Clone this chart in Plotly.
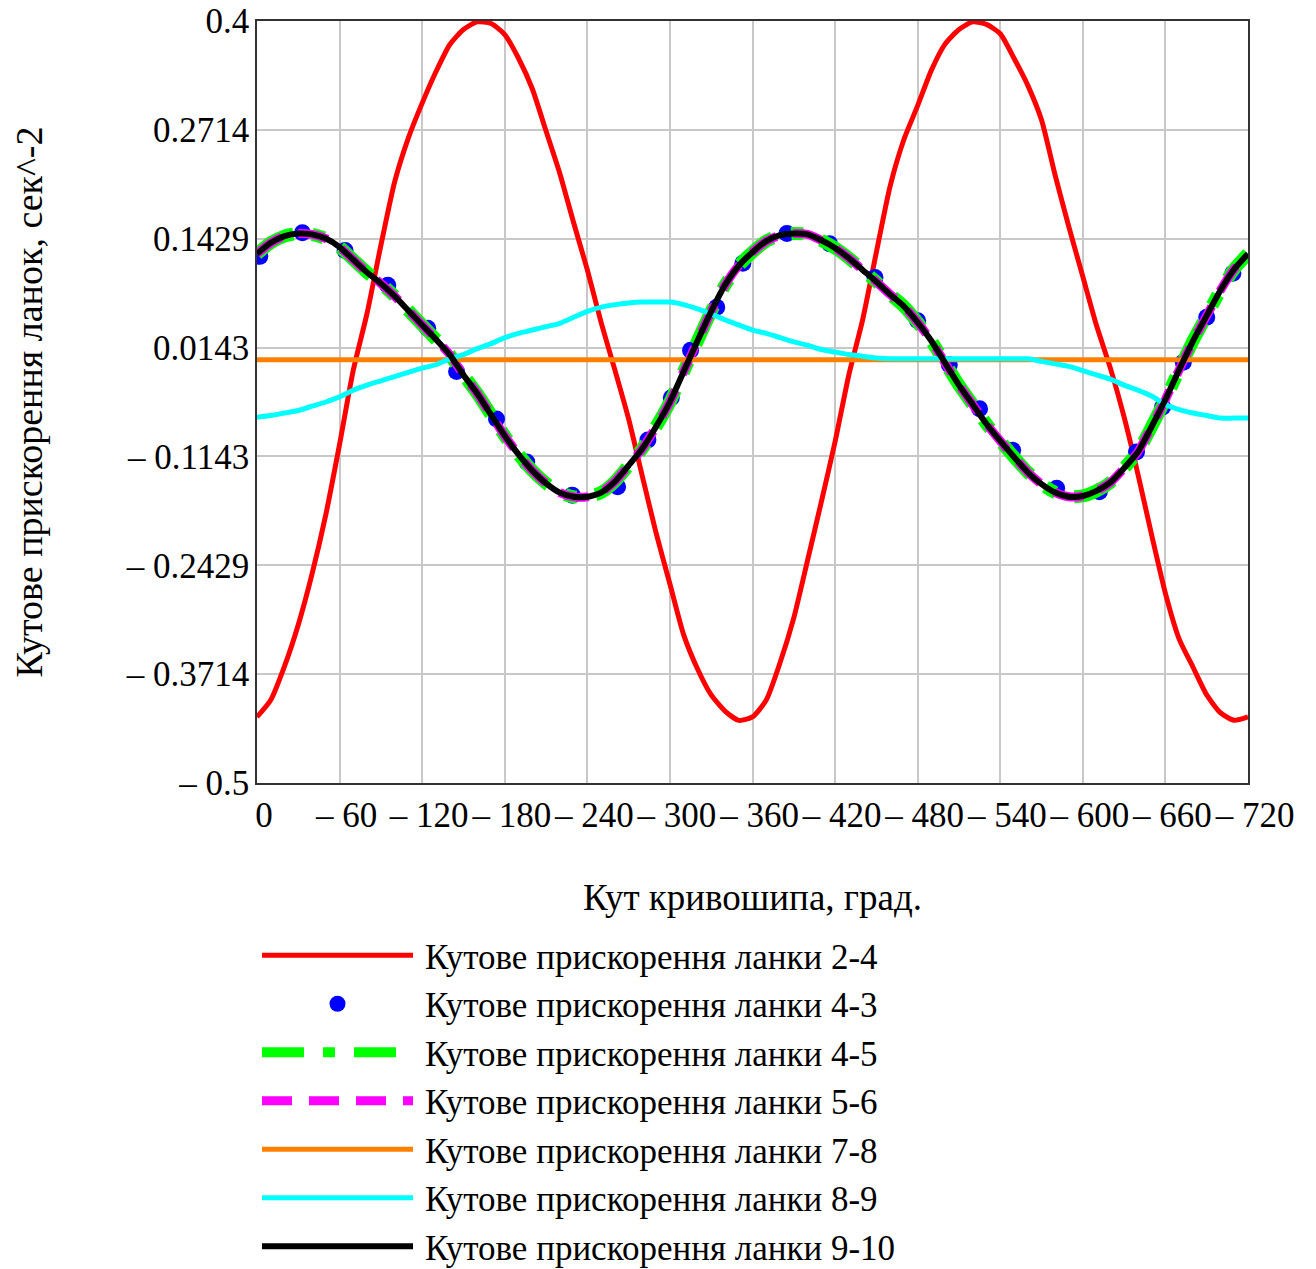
import plotly.graph_objects as go

# ---------------- data ----------------
angle = list(range(0, 721, 10))  # crank angle, degrees

acc_24 = [-0.422, -0.402, -0.362, -0.313, -0.253, -0.183, -0.100, -0.012, 0.055, 0.135,
          0.210, 0.262, 0.303, 0.340, 0.372, 0.390, 0.399, 0.397, 0.384, 0.356,
          0.320, 0.270, 0.220, 0.162, 0.106, 0.044, -0.012, -0.070, -0.138, -0.205,
          -0.265, -0.325, -0.365, -0.396, -0.415, -0.426,
          -0.422, -0.402, -0.358, -0.305, -0.237, -0.168, -0.097, -0.018, 0.047, 0.127,
          0.205, 0.260, 0.300, 0.342, 0.373, 0.390, 0.399, 0.396, 0.385, 0.356,
          0.324, 0.283, 0.217, 0.156, 0.098, 0.040, -0.010, -0.068, -0.135, -0.207,
          -0.276, -0.330, -0.363, -0.396, -0.417, -0.426, -0.422]

acc_43_angle = [2, 33, 64, 95, 124, 145, 174, 196, 229, 262, 284, 301, 315, 334, 353,
                385, 416, 449, 480, 503, 525, 549, 581, 612, 639, 658, 673, 690, 709]
acc_43 = [0.122, 0.150, 0.129, 0.088, 0.037, -0.014, -0.070, -0.121, -0.160, -0.150,
          -0.095, -0.045, 0.011, 0.062, 0.114, 0.149, 0.137, 0.097, 0.046, -0.006,
          -0.058, -0.107, -0.152, -0.156, -0.109, -0.056, -0.003, 0.050, 0.102]

acc_910 = [0.125, 0.138, 0.146, 0.149, 0.148, 0.143, 0.133, 0.118, 0.103, 0.090,
           0.075, 0.058, 0.041, 0.024, 0.006, -0.018, -0.040, -0.065, -0.090, -0.112,
           -0.131, -0.146, -0.157, -0.162, -0.162, -0.157, -0.144, -0.125, -0.105, -0.079,
           -0.050, -0.014, 0.022, 0.057, 0.088, 0.111,
           0.127, 0.140, 0.147, 0.149, 0.148, 0.141, 0.132, 0.120, 0.106, 0.092,
           0.077, 0.063, 0.044, 0.022, -0.004, -0.030, -0.053, -0.076, -0.096, -0.115,
           -0.133, -0.147, -0.157, -0.162, -0.161, -0.155, -0.145, -0.128, -0.109, -0.079,
           -0.047, -0.012, 0.022, 0.052, 0.082, 0.107, 0.125]
acc_45 = list(acc_910)   # visually coincides with 9-10
acc_56 = list(acc_910)   # visually coincides with 9-10

acc_78 = [0.0] * len(angle)

acc_89 = [-0.068, -0.066, -0.063, -0.060, -0.055, -0.050, -0.044, -0.036, -0.030, -0.025,
          -0.020, -0.015, -0.010, -0.006, 0.001, 0.006, 0.013, 0.019, 0.026, 0.031,
          0.035, 0.039, 0.043, 0.050, 0.057, 0.062, 0.065, 0.067, 0.068, 0.068,
          0.068, 0.065, 0.060, 0.054, 0.047, 0.041,
          0.035, 0.031, 0.026, 0.021, 0.017, 0.012, 0.009, 0.006, 0.004, 0.002,
          0.001, 0.001, 0.001, 0.001, 0.001, 0.001, 0.001, 0.001, 0.001, 0.001,
          0.001, -0.002, -0.005, -0.008, -0.013, -0.018, -0.023, -0.030, -0.036, -0.043,
          -0.053, -0.059, -0.063, -0.066, -0.069, -0.069, -0.069]

x_tickvals = [0, 60, 120, 180, 240, 300, 360, 420, 480, 540, 600, 660, 720]
x_ticktext = ["0", "– 60", "– 120", "– 180", "– 240", "– 300", "– 360", "– 420",
              "– 480", "– 540", "– 600", "– 660", "– 720"]
y_tickvals = [0.4, 0.2714, 0.1429, 0.0143, -0.1143, -0.2429, -0.3714, -0.5]
y_ticktext = ["0.4", "0.2714", "0.1429", "0.0143", "– 0.1143", "– 0.2429", "– 0.3714", "– 0.5"]

names = ["Кутове прискорення ланки 2-4", "Кутове прискорення ланки 4-3",
         "Кутове прискорення ланки 4-5", "Кутове прискорення ланки 5-6",
         "Кутове прискорення ланки 7-8", "Кутове прискорення ланки 8-9",
         "Кутове прискорення ланки 9-10"]

FONT = "Liberation Serif"
PAD = "\u2009"  # small gap between legend symbol and text

fig = go.Figure()
fig.add_trace(go.Scatter(x=angle, y=acc_24, name=PAD + names[0], mode="lines",
                         line=dict(color="#ff0000", width=5, shape="spline", smoothing=0.6)))
fig.add_trace(go.Scatter(x=acc_43_angle, y=acc_43, name=PAD + names[1], mode="markers",
                         marker=dict(color="#0000ff", size=17)))
fig.add_trace(go.Scatter(x=angle, y=acc_45, name=PAD + names[2], mode="lines",
                         line=dict(color="#00ff00", width=13, dash="42px,19px,12px,19px",
                                   shape="spline", smoothing=0.6)))
fig.add_trace(go.Scatter(x=angle, y=acc_56, name=PAD + names[3], mode="lines",
                         line=dict(color="#ff00ff", width=9, dash="30px,17px",
                                   shape="spline", smoothing=0.6)))
fig.add_trace(go.Scatter(x=angle, y=acc_78, name=PAD + names[4], mode="lines",
                         line=dict(color="#ff8000", width=5)))
fig.add_trace(go.Scatter(x=angle, y=acc_89, name=PAD + names[5], mode="lines",
                         line=dict(color="#00ffff", width=5, shape="spline", smoothing=0.6)))
fig.add_trace(go.Scatter(x=angle, y=acc_910, name=PAD + names[6], mode="lines",
                         line=dict(color="#000000", width=6, shape="spline", smoothing=0.6)))

fig.update_layout(
    width=1308, height=1261,
    margin=dict(l=249, r=68, t=13, b=486, autoexpand=False),
    paper_bgcolor="white", plot_bgcolor="white",
    font=dict(family=FONT, size=35, color="black"),
    showlegend=True,
    legend=dict(x=0, xref="paper", y=0.272, yref="container",
                xanchor="left", yanchor="top",
                itemwidth=151, font=dict(family=FONT, size=35, color="black"),
                bgcolor="rgba(0,0,0,0)", borderwidth=0),
    xaxis=dict(range=[0, 720], tickvals=x_tickvals, ticktext=x_ticktext,
               showgrid=True, gridcolor="#c8c8c8", gridwidth=1.5,
               showline=True, linecolor="#333333", linewidth=1.5, mirror=True,
               zeroline=False, ticks="", ticklabelstandoff=0, ticklabelshift=7,
               automargin=False, ticklabeloverflow="allow",
               tickfont=dict(family=FONT, size=35, color="black"),
               title=dict(text="Кут кривошипа, град.", standoff=50,
                          font=dict(family=FONT, size=37, color="black"))),
    yaxis=dict(range=[-0.5, 0.4], tickvals=y_tickvals, ticktext=y_ticktext,
               showgrid=True, gridcolor="#c8c8c8", gridwidth=1.5,
               showline=True, linecolor="#333333", linewidth=1.5, mirror=True,
               zeroline=False, ticks="", ticklabelstandoff=-1,
               automargin=False, ticklabeloverflow="allow",
               tickfont=dict(family=FONT, size=35, color="black"),
               title=dict(text="Кутове прискорення ланок, сек^-2", standoff=74,
                          font=dict(family=FONT, size=38, color="black"))),
)

fig.write_html("out.html")
